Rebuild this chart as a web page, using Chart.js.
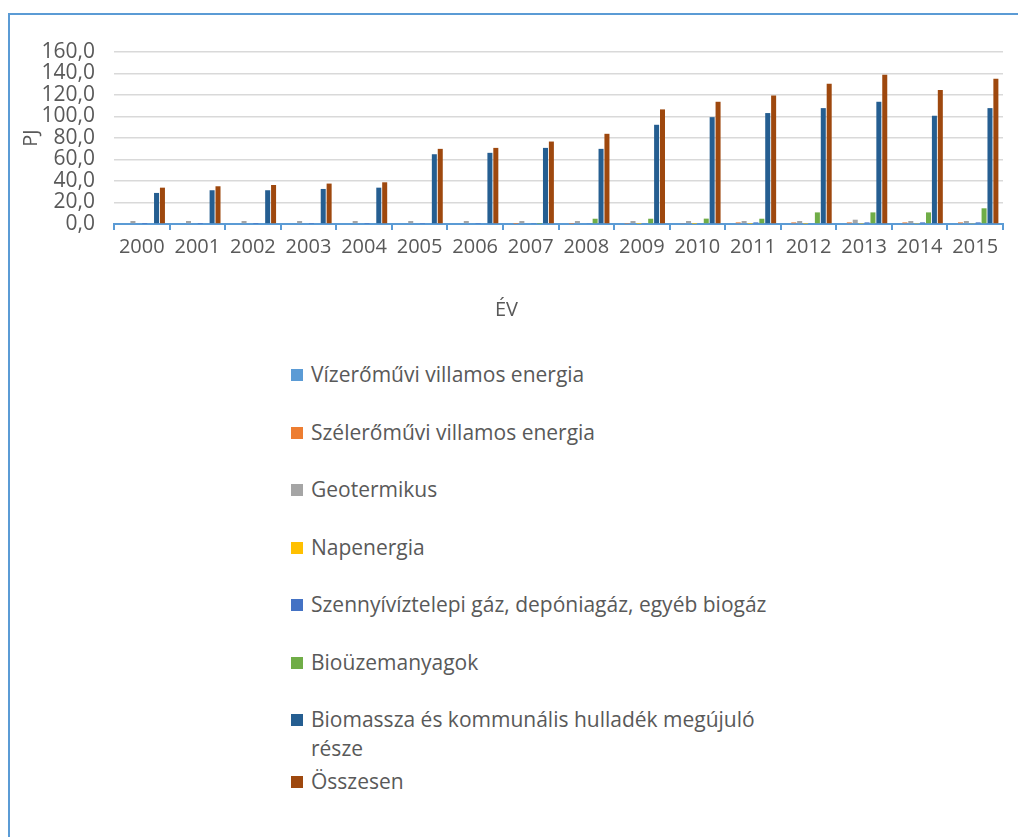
<!DOCTYPE html>
<html>
<head>
<meta charset="utf-8">
<script src="https://cdn.jsdelivr.net/npm/chart.js@4/dist/chart.umd.min.js"></script>
<style>
    html, body { margin: 0; padding: 0; background: #fff; overflow: hidden; }
    body { width: 1018px; height: 837px; position: relative; font-family: "Open Sans", sans-serif; }
    .frame { position: absolute; left: 8px; top: 13px; width: 1100px; height: 900px; border-top: 2.5px solid #5b9bd5; border-left: 2.5px solid #5b9bd5; }
    .chart-box { position: absolute; left: 0; top: 0; width: 1018px; height: 340px; }
    #legend { position: absolute; left: 291px; top: 360px; margin: 0; padding: 0; list-style: none; }
    #legend li { height: 57.5px; line-height: 29px; font-size: 21px; color: #595959; position: relative; padding-left: 20px; width: 470px; }
    #legend li:last-child { margin-top: 4px; }
    #legend li span { position: absolute; left: 0; top: 9px; width: 12px; height: 12px; }
</style>
</head>
<body>
<div class="frame"></div>
<div class="chart-box"><canvas id="myChart"></canvas></div>
<ul id="legend"></ul>
<script>
const years = ["2000", "2001", "2002", "2003", "2004", "2005", "2006", "2007",
               "2008", "2009", "2010", "2011", "2012", "2013", "2014", "2015"];

const seriesNames = [
    "Vízerőművi villamos energia",
    "Szélerőművi villamos energia",
    "Geotermikus",
    "Napenergia",
    "Szennyívíztelepi gáz, depóniagáz, egyéb biogáz",
    "Bioüzemanyagok",
    "Biomassza és kommunális hulladék megújuló része",
    "Összesen"
];

const seriesColors = ["#5b9bd5", "#ed7d31", "#a5a5a5", "#ffc000", "#4472c4", "#70ad47", "#255e91", "#9e480e"];

// PJ
const hydro   = [0.6, 0.7, 0.7, 0.6, 0.8, 0.7, 0.7, 0.8, 0.8, 0.8, 0.7, 0.8, 0.8, 0.8, 0.9, 0.8];
const wind    = [0, 0, 0, 0, 0, 0, 0, 0.1, 0.2, 0.3, 0.5, 1.5, 1.5, 1.5, 1.5, 1.5];
const geo     = [2.8, 2.8, 2.8, 2.8, 2.8, 2.8, 2.8, 2.8, 2.8, 2.8, 2.8, 2.8, 2.8, 4.0, 2.8, 2.8];
const solar   = [0, 0, 0, 0, 0, 0, 0, 0, 0, 0.1, 0.1, 0.1, 0.2, 0.3, 0.4, 0.5];
const biogas  = [0.1, 0.1, 0.1, 0.2, 0.2, 0.3, 0.3, 0.4, 0.5, 0.6, 0.7, 1.5, 0.7, 1.5, 1.5, 1.5];
const biofuel = [0, 0, 0, 0, 0, 0, 0, 0.2, 4.9, 4.9, 5.0, 4.9, 10.8, 10.8, 10.8, 14.6];
const biomass = [28.9, 31.4, 31.4, 32.6, 33.8, 64.9, 66.2, 70.8, 69.9, 92.3, 99.4, 103.2, 107.8, 113.7, 100.7, 107.8];
const total   = [33.8, 35.1, 36.3, 37.6, 38.8, 69.9, 70.8, 76.7, 83.9, 106.6, 113.7, 119.6, 130.5, 138.9, 124.6, 135.2];

const seriesValues = [hydro, wind, geo, solar, biogas, biofuel, biomass, total];

const textColor = "#595959";
const axisBlue = "#5b9bd5";

function buildDatasets() {
    return seriesNames.map((name, i) => ({
        label: name,
        data: seriesValues[i],
        backgroundColor: seriesColors[i],
        categoryPercentage: 0.85,
        barPercentage: 0.85
    }));
}

function formatTick(value) {
    return value.toFixed(1).replace(".", ",");
}

function buildLegend() {
    const legend = document.getElementById("legend");
    seriesNames.forEach((name, i) => {
        const li = document.createElement("li");
        const box = document.createElement("span");
        box.style.background = seriesColors[i];
        li.appendChild(box);
        li.appendChild(document.createTextNode(name));
        legend.appendChild(li);
    });
}

function initChart() {
    Chart.defaults.font.family = '"Open Sans", sans-serif';
    Chart.defaults.color = textColor;

    const chartElement = document.getElementById("myChart");
    new Chart(chartElement, {
        type: "bar",
        data: {
            labels: years,
            datasets: buildDatasets()
        },
        options: {
            responsive: true,
            maintainAspectRatio: false,
            animation: false,
            layout: {
                padding: { left: 10, right: 15, top: 52, bottom: 0 }
            },
            plugins: {
                legend: { display: false },
                tooltip: { enabled: false },
                title: {
                    display: true,
                    text: "ÉV",
                    position: "bottom",
                    color: textColor,
                    font: { size: 20, weight: "normal" },
                    padding: { top: 34, bottom: 18 }
                }
            },
            scales: {
                x: {
                    grid: {
                        display: true,
                        offset: true,
                        drawOnChartArea: false,
                        drawTicks: true,
                        tickLength: 6,
                        color: axisBlue,
                        lineWidth: 2
                    },
                    border: { display: true, color: axisBlue, width: 2 },
                    ticks: {
                        color: textColor,
                        font: { size: 20 },
                        padding: 5,
                        maxRotation: 0,
                        autoSkip: false
                    }
                },
                y: {
                    min: 0,
                    max: 160,
                    afterFit: scale => { scale.width = 104; },
                    grid: {
                        color: "#d9d9d9",
                        lineWidth: 1.5,
                        drawTicks: false
                    },
                    border: { display: false },
                    ticks: {
                        stepSize: 20,
                        autoSkip: false,
                        padding: 19,
                        color: textColor,
                        font: { size: 21 },
                        callback: value => formatTick(value)
                    },
                    title: {
                        display: true,
                        text: "PJ",
                        color: textColor,
                        font: { size: 20 },
                        padding: { top: 9, bottom: 0 }
                    }
                }
            }
        }
    });
}

buildLegend();
initChart();
</script>
</body>
</html>
